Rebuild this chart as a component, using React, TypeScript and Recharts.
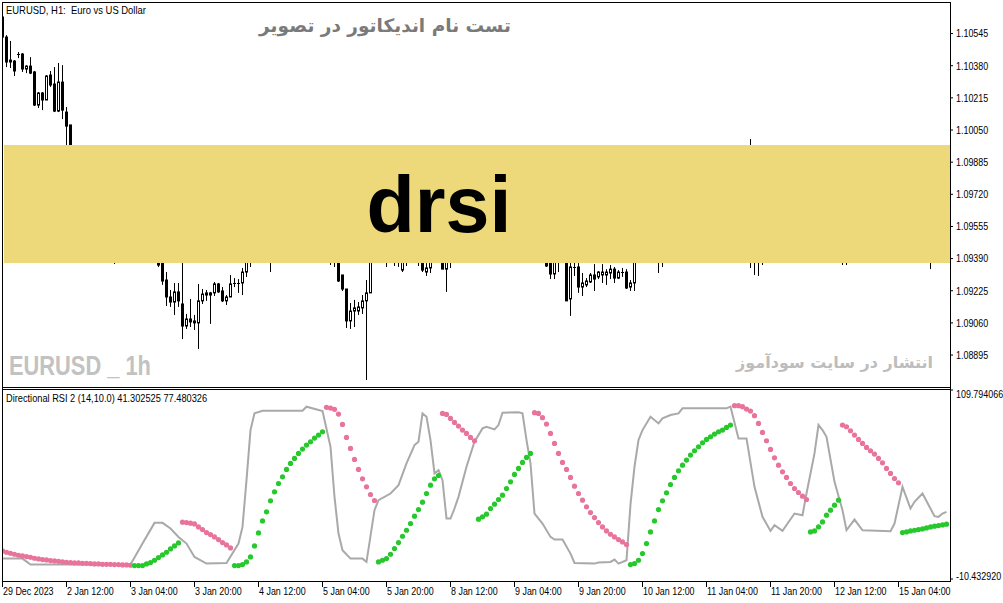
import React from 'react';
import { ComposedChart, Bar, Line, Scatter, XAxis, YAxis } from 'recharts';

// ---------------- data ----------------
const timeTicks = [0, 16, 32, 48, 64, 80, 96, 112, 128, 144, 160, 176, 192, 208, 224];
const timeLabels = [
  '29 Dec 2023', '2 Jan 12:00', '3 Jan 04:00', '3 Jan 20:00', '4 Jan 12:00', '5 Jan 04:00',
  '5 Jan 20:00', '8 Jan 12:00', '9 Jan 04:00', '9 Jan 20:00', '10 Jan 12:00', '11 Jan 04:00',
  '11 Jan 20:00', '12 Jan 12:00', '15 Jan 04:00',
];
const priceTicks = [1.08895, 1.0906, 1.09225, 1.0939, 1.09555, 1.0972, 1.09885, 1.1005, 1.10215, 1.1038, 1.10545];
const rsiTicks = [-10.43292, 109.794066];
const rsiTickLabels = ['-10.432920', '109.794066'];

// [bar, open, high, low, close]
const candleRows: number[][] = [
  [0, 1.1063, 1.1064, 1.10522, 1.10527],
  [1, 1.10527, 1.10537, 1.10373, 1.10399],
  [2, 1.10409, 1.10507, 1.10368, 1.10399],
  [3, 1.10404, 1.10409, 1.10327, 1.10353],
  [4, 1.1044, 1.1045, 1.10419, 1.10435],
  [5, 1.1044, 1.10445, 1.10348, 1.10363],
  [6, 1.10363, 1.10383, 1.10342, 1.10378],
  [7, 1.10378, 1.10424, 1.10337, 1.10342],
  [8, 1.10348, 1.10353, 1.10173, 1.10178],
  [9, 1.10178, 1.10245, 1.10163, 1.1024],
  [10, 1.1024, 1.10245, 1.10152, 1.10204],
  [11, 1.10204, 1.10332, 1.10204, 1.10327],
  [12, 1.10332, 1.10353, 1.10271, 1.10281],
  [13, 1.10286, 1.10373, 1.10142, 1.10147],
  [14, 1.10147, 1.10394, 1.10142, 1.10296],
  [15, 1.10296, 1.10383, 1.10106, 1.10152],
  [16, 1.10142, 1.10168, 1.09947, 1.1007],
  [17, 1.10076, 1.10076, 1.09845, 1.09896],
  [28, 1.09434, 1.09485, 1.09362, 1.09408],
  [39, 1.09408, 1.09434, 1.09347, 1.09357],
  [40, 1.09408, 1.09434, 1.09255, 1.09275],
  [41, 1.0928, 1.09321, 1.09147, 1.09193],
  [42, 1.09193, 1.09229, 1.09142, 1.09167],
  [43, 1.09167, 1.09265, 1.09101, 1.09219],
  [44, 1.09219, 1.09265, 1.09142, 1.09173],
  [45, 1.09157, 1.09393, 1.08977, 1.09044],
  [46, 1.09044, 1.09106, 1.09029, 1.0908],
  [47, 1.0908, 1.09183, 1.09039, 1.09065],
  [48, 1.0907, 1.09101, 1.09024, 1.0906],
  [49, 1.0906, 1.0926, 1.08926, 1.09173],
  [50, 1.09173, 1.09234, 1.09157, 1.09208],
  [51, 1.09203, 1.09229, 1.09173, 1.09214],
  [52, 1.09203, 1.09219, 1.09055, 1.09214],
  [53, 1.09214, 1.0927, 1.09198, 1.0926],
  [54, 1.0926, 1.09265, 1.09214, 1.09219],
  [55, 1.09224, 1.09244, 1.09167, 1.09173],
  [56, 1.09173, 1.09203, 1.09152, 1.09193],
  [57, 1.09193, 1.09306, 1.09193, 1.0926],
  [58, 1.0926, 1.0929, 1.09244, 1.09265],
  [59, 1.09265, 1.09285, 1.09214, 1.09267],
  [60, 1.09265, 1.09342, 1.09203, 1.09321],
  [61, 1.09321, 1.09434, 1.09296, 1.09408],
  [62, 1.09408, 1.09485, 1.09347, 1.09434],
  [67, 1.09485, 1.09537, 1.09321, 1.0946],
  [82, 1.09434, 1.09485, 1.09357, 1.09408],
  [83, 1.09408, 1.09434, 1.09347, 1.09393],
  [84, 1.09393, 1.09408, 1.0927, 1.09275],
  [85, 1.09306, 1.09306, 1.09224, 1.09234],
  [86, 1.09234, 1.09234, 1.09034, 1.0907],
  [87, 1.0907, 1.09162, 1.09029, 1.09121],
  [88, 1.09121, 1.09178, 1.09039, 1.09137],
  [89, 1.09121, 1.09167, 1.09101, 1.09142],
  [90, 1.09137, 1.09203, 1.09106, 1.09173],
  [91, 1.09173, 1.0928, 1.08767, 1.09214],
  [92, 1.09214, 1.0946, 1.09214, 1.09434],
  [96, 1.09434, 1.0946, 1.09347, 1.09408],
  [98, 1.09434, 1.09485, 1.09352, 1.0946],
  [99, 1.0946, 1.09485, 1.09347, 1.09434],
  [100, 1.09331, 1.09434, 1.09321, 1.09408],
  [101, 1.09408, 1.0946, 1.09352, 1.09434],
  [104, 1.09434, 1.0946, 1.09352, 1.09408],
  [105, 1.09408, 1.09434, 1.09321, 1.09331],
  [106, 1.09321, 1.09367, 1.09301, 1.09342],
  [107, 1.09342, 1.09434, 1.09316, 1.09408],
  [110, 1.09408, 1.09434, 1.09336, 1.09336],
  [111, 1.09336, 1.09434, 1.09219, 1.09408],
  [112, 1.09408, 1.09434, 1.09342, 1.0942],
  [136, 1.09408, 1.09434, 1.09347, 1.09352],
  [137, 1.09408, 1.09434, 1.09285, 1.09311],
  [138, 1.09311, 1.09434, 1.09285, 1.09408],
  [139, 1.09408, 1.09434, 1.09321, 1.0942],
  [141, 1.09408, 1.09434, 1.09173, 1.09173],
  [142, 1.09183, 1.09408, 1.09096, 1.09347],
  [143, 1.09347, 1.09408, 1.09301, 1.09342],
  [144, 1.09347, 1.09367, 1.09214, 1.09244],
  [145, 1.09244, 1.09316, 1.09198, 1.09265],
  [146, 1.09255, 1.0929, 1.09244, 1.09275],
  [147, 1.0927, 1.09316, 1.09265, 1.09306],
  [148, 1.09306, 1.09362, 1.09224, 1.09285],
  [149, 1.09296, 1.09326, 1.09285, 1.09321],
  [150, 1.09306, 1.09362, 1.09265, 1.09321],
  [151, 1.09306, 1.09336, 1.09255, 1.09321],
  [152, 1.09316, 1.09357, 1.09285, 1.09336],
  [153, 1.09336, 1.09347, 1.09265, 1.0929],
  [154, 1.0929, 1.09331, 1.09285, 1.09321],
  [155, 1.09321, 1.09342, 1.09296, 1.09318],
  [156, 1.09321, 1.09336, 1.09234, 1.09239],
  [157, 1.09244, 1.0928, 1.09224, 1.09265],
  [158, 1.09265, 1.09434, 1.09224, 1.09408],
  [164, 1.09434, 1.0946, 1.09316, 1.09408],
  [165, 1.09408, 1.09434, 1.09347, 1.0942],
  [187, 1.097, 1.10004, 1.09342, 1.0965],
  [188, 1.0965, 1.097, 1.09306, 1.096],
  [189, 1.096, 1.0965, 1.09301, 1.0955],
  [190, 1.0955, 1.096, 1.09357, 1.095],
  [210, 1.0945, 1.095, 1.09357, 1.0948],
  [211, 1.0948, 1.0952, 1.09357, 1.0946],
  [232, 1.095, 1.0955, 1.09336, 1.0948],
];

// gray RSI line vertices
const grayBars = [
  0, 5, 7, 32, 35, 38, 40, 42, 44, 46, 48, 51, 56, 59, 60, 61, 62, 63, 65, 75, 76, 80, 82, 83, 84, 85, 87, 90, 91,
  93, 94, 97, 99, 101, 103, 104, 105, 106, 107, 108, 109, 110, 111, 112, 113, 114, 116, 118, 120, 121, 123, 124,
  125, 129, 130, 131, 132, 133, 135, 137, 138, 140, 142, 143, 148, 149, 152, 153, 154, 156, 157, 158, 159, 160,
  162, 164, 165, 167, 169, 170, 181, 182, 184, 186, 188, 190, 192, 193, 195, 198, 200, 201, 203, 204, 205, 206,
  208, 210, 211, 213, 215, 222, 223, 225, 227, 228, 230, 233, 234, 235, 236,
];
const grayValues = [
  2.54, 2.54, -1.28, -1.28, 12.1, 25.27, 25.27, 21.66, 16.35, 12.1, 3.61, -0.64, -0.22, 12.1, 22.72, 52.45, 84.3,
  94.92, 96.62, 96.62, 99.17, 96.41, 73.69, 41.83, 18.47, 7.85, 2.54, 2.54, 0.42,
  33.34, 39.71, 43.95, 49.26, 63.07, 74.75, 76.87, 94.92, 92.8, 77.93, 56.7, 58.82, 52.45, 28.03, 28.03, 34.4,
  41.83, 61.0, 76.87, 85.37, 86.43, 84.73, 87.49,
  95.35, 95.56, 94.92, 77.93, 63.07, 31.21, 24.84, 16.35, 14.64, 14.64, 5.73, -0.22, -0.64, 0.0, 0.42, 1.91, -0.64,
  1.48, 37.0, 61.0, 78.0, 84.3,
  92.8, 88.55, 91.74, 93.86, 94.92, 98.11, 98.11, 99.17, 79.0, 79.0, 48.2, 29.09, 20.17, 23.78, 20.17, 31.21, 30.15,
  43.95, 69.44, 87.49, 84.3, 80.06,
  51.39, 33.34, 20.59, 27.39, 20.59, 19.96, 24.84, 48.2, 34.4, 38.64, 43.95, 29.51, 29.09, 31.21, 32.28,
];

// pink (falling) dot segments
const downStarts = [0, 45, 81, 110, 133, 183, 210];
const downValues = [
  [7.43, 6.58, 5.94, 5.3, 4.67, 4.24, 3.82, 3.39, 2.76, 2.33, 1.91, 1.69, 1.27, 1.06, 0.84, 0.42, 0.21, 0.0, -0.22,
    -0.22, -0.43, -0.43, -0.64, -0.85, -0.85, -1.07, -1.07, -1.07, -1.28, -1.28, -1.49, -1.49, -1.7],
  [25.69, 25.48, 25.05, 24.63, 22.72, 21.02, 19.11, 17.83, 16.35, 14.64, 12.73, 11.25, 9.34],
  [98.75, 98.32, 97.47, 94.5, 87.92, 79.63, 72.62, 65.62, 59.24, 53.3, 48.2, 43.32, 39.5],
  [94.92, 94.28, 91.74, 89.19, 86.85, 84.3, 82.18, 79.63, 77.51],
  [95.35, 94.92, 92.16, 88.13, 82.18, 75.81, 69.44, 63.7, 59.24, 54.15, 48.63, 43.95, 39.71, 35.46, 31.85, 28.66,
    25.48, 22.72, 20.17, 18.04, 16.35, 14.64, 13.16, 11.46],
  [99.81, 99.81, 99.17, 97.68, 96.41, 93.44, 88.55, 82.82, 77.51, 71.99, 66.68, 62.0, 57.76, 54.15, 50.32, 47.14,
    44.59, 42.26, 40.13],
  [87.49, 86.43, 83.88, 81.12, 78.36, 75.81, 73.26, 71.14, 69.01, 66.25, 63.49, 59.88, 56.7, 53.51, 50.75],
];

// green (rising) dot segments
const upStarts = [33, 58, 94, 119, 157, 202, 225];
const upValues = [
  [-1.92, -1.92, -1.92, -0.85, 0.0, 1.48, 3.18, 4.88, 6.58, 8.7, 10.61, 12.52],
  [-1.92, -1.92, -1.28, 0.42, 3.61, 10.61, 18.89, 26.54, 32.28, 39.28, 45.02, 50.32, 54.57, 59.24, 63.07, 66.25,
    69.44, 72.2, 74.75, 76.87, 79.21, 81.12, 83.24],
  [0.42, 1.48, 2.54, 5.3, 8.91, 12.73, 16.77, 20.59, 24.84, 29.51, 33.76, 38.43, 43.95, 49.26, 53.3, 55.42],
  [27.6, 29.09, 30.79, 34.4, 37.16, 40.13, 42.89, 47.14, 51.39, 56.06, 59.88, 63.7, 66.89, 69.44],
  [-1.28, -0.64, 1.48, 5.73, 12.1, 19.53, 26.54, 33.76, 39.28, 44.38, 49.69, 54.15, 58.4, 62.0, 65.19, 68.38,
    71.14, 73.69, 76.23, 78.36, 80.06, 81.76, 83.24, 84.3, 86.0, 87.49],
  [19.53, 20.17, 22.72, 25.9, 30.15, 33.34, 36.52, 39.71],
  [19.11, 19.53, 20.17, 20.59, 21.02, 21.44, 22.08, 22.72, 23.14, 23.57, 23.99, 24.42],
];

// ---------------- derived tables ----------------
const candles = candleRows.map(([bar, open, high, low, close]) => ({ bar, open, high, low, close }));
const grayLine = grayBars.map((bar, i) => ({ bar, v: grayValues[i] }));
const downDots = downStarts.flatMap((s, k) => downValues[k].map((v, j) => ({ bar: s + j, v })));
const upDots = upStarts.flatMap((s, k) => upValues[k].map((v, j) => ({ bar: s + j, v })));

const xDomain: [number, number] = [-0.125, 236.875];
const MT_FONT = "'Liberation Sans', Arial, sans-serif";
const FA_FONT = "'DejaVu Sans', sans-serif";

function MtText({ x, y, sx = 0.86, size = 10.5, anchor = 'start', children }: any) {
  return (
    <text
      transform={`translate(${x},${y}) scale(${sx},1)`}
      fontSize={size}
      fontFamily={MT_FONT}
      fill="#000"
      textAnchor={anchor}
      xmlSpace="preserve"
      style={{ whiteSpace: 'pre' }}
    >
      {children}
    </text>
  );
}

function CandleShape(props: any) {
  const { x, y, width, height, payload } = props;
  if (x == null || y == null || !payload) return null;
  const cx = Math.floor(x + width / 2) + 0.5;
  const yTop = Math.min(y, y + height);
  const h = Math.abs(height);
  const { open, high, low, close } = payload;
  const span = high - low || 1;
  const yOf = (p: number) => yTop + ((high - p) / span) * h;
  const yo = yOf(open);
  const yc = yOf(close);
  const top = Math.min(yo, yc);
  const bot = Math.max(yo, yc);
  const bull = close > open;
  let body;
  if (bot - top < 1) {
    body = <line x1={cx - 1.5} x2={cx + 1.5} y1={Math.round(top) + 0.5} y2={Math.round(top) + 0.5} stroke="#000" strokeWidth={1} />;
  } else if (bull) {
    body = <rect x={cx - 1} y={top} width={2} height={bot - top} fill="#fff" stroke="#000" strokeWidth={1} />;
  } else {
    body = <rect x={cx - 1.5} y={top - 0.5} width={3} height={bot - top + 1} fill="#000" />;
  }
  return (
    <g>
      <line x1={cx} x2={cx} y1={yTop} y2={yTop + h} stroke="#000" strokeWidth={1} />
      {body}
    </g>
  );
}

const PriceTick = (p: any) => (
  <MtText x={p.x} y={p.y + 3.8} sx={0.85}>
    {Number(p.payload.value).toFixed(5)}
  </MtText>
);

const RsiTick = (p: any) => {
  const v = p.payload.value;
  const i = rsiTicks.indexOf(v);
  return (
    <MtText x={p.x} y={p.y + (v > 50 ? 8.3 : 1.3)} sx={0.85}>
      {i >= 0 ? rsiTickLabels[i] : String(v)}
    </MtText>
  );
};

const TimeTick = (p: any) => {
  const i = timeTicks.indexOf(p.payload.value);
  return (
    <MtText x={p.x + 0.5} y={p.y + 6} sx={0.85}>
      {i >= 0 ? timeLabels[i] : ''}
    </MtText>
  );
};

const PinkDot = (p: any) => <circle cx={p.cx} cy={p.cy} r={2.6} fill="#E8739B" />;
const GreenDot = (p: any) => <circle cx={p.cx} cy={p.cy} r={2.6} fill="#26C82C" />;

export default function App() {
  return (
    <div style={{ position: 'absolute', left: 0, top: 0, width: 1003, height: 603, background: '#fff', overflow: 'hidden' }}>
      <div style={{ position: 'absolute', left: 0, top: 0 }}>
        <ComposedChart width={1003} height={388} data={candles} margin={{ top: 2, right: 0, bottom: 1, left: 2 }}>
          <XAxis type="number" dataKey="bar" domain={xDomain} allowDataOverflow hide />
          <YAxis
            orientation="right"
            type="number"
            width={53}
            domain={[1.08731, 1.10707]}
            allowDataOverflow
            ticks={priceTicks}
            interval={0}
            axisLine={false}
            tickLine={{ stroke: '#000' }}
            tickSize={3}
            tickMargin={3}
            tick={PriceTick}
          />
          <Bar dataKey={(d: any) => [d.low, d.high]} barSize={3} shape={CandleShape} isAnimationActive={false} />
        </ComposedChart>
      </div>
      <div style={{ position: 'absolute', left: 0, top: 388 }}>
        <ComposedChart width={1003} height={215} margin={{ top: 2, right: 0, bottom: 0, left: 2 }}>
          <XAxis
            type="number"
            dataKey="bar"
            domain={xDomain}
            allowDataOverflow
            ticks={timeTicks}
            interval={0}
            height={21}
            axisLine={false}
            tickLine={{ stroke: '#000' }}
            tickSize={5}
            tick={TimeTick}
          />
          <YAxis
            orientation="right"
            type="number"
            width={53}
            domain={[-12.341, 109.794066]}
            allowDataOverflow
            ticks={rsiTicks}
            interval={0}
            axisLine={false}
            tickLine={{ stroke: '#000' }}
            tickSize={3}
            tickMargin={3}
            tick={RsiTick}
          />
          <Line data={grayLine} dataKey="v" type="linear" stroke="#A9A9A9" strokeWidth={2} dot={false} activeDot={false} isAnimationActive={false} />
          <Scatter data={downDots} dataKey="v" shape={PinkDot} isAnimationActive={false} />
          <Scatter data={upDots} dataKey="v" shape={GreenDot} isAnimationActive={false} />
        </ComposedChart>
      </div>
      <svg width={1003} height={603} style={{ position: 'absolute', left: 0, top: 0, pointerEvents: 'none' }}>
        <rect x={4} y={145} width={946} height={118} fill="#EDD97A" />
        <text x={439} y={232} textAnchor="middle" fontSize={79} fontWeight="bold" fontFamily={MT_FONT} fill="#000">
          drsi
        </text>
        <MtText x={6} y={14} sx={0.9}>EURUSD, H1:  Euro vs US Dollar</MtText>
        <MtText x={6} y={402} sx={0.88}>Directional RSI 2 (14,10.0) 41.302525 77.480326</MtText>
        <text x={385} y={32} textAnchor="middle" fontSize={18.5} fontWeight="bold" fontFamily={FA_FONT} fill="#7a7a7a">
          تست نام اندیکاتور در تصویر
        </text>
        <text x={933} y={368} textAnchor="end" fontSize={16} fontWeight="bold" fontFamily={FA_FONT} fill="#bdbdbd">
          انتشار در سایت سودآموز
        </text>
        <text transform="translate(9,375) scale(0.78,1)" fontSize={28} fontWeight="bold" fontFamily={MT_FONT} fill="#c2c2c2" xmlSpace="preserve" style={{ whiteSpace: 'pre' }}>
          EURUSD _ 1h
        </text>
        {/* frame */}
        <rect x={2} y={2} width={949} height={1} fill="#000" />
        <rect x={2} y={2} width={1} height={580} fill="#000" />
        <rect x={950} y={2} width={1} height={580} fill="#000" />
        <rect x={2} y={387} width={949} height={1} fill="#000" />
        <rect x={2} y={389} width={949} height={1} fill="#000" />
        <rect x={2} y={581} width={949} height={1} fill="#000" />
      </svg>
    </div>
  );
}
